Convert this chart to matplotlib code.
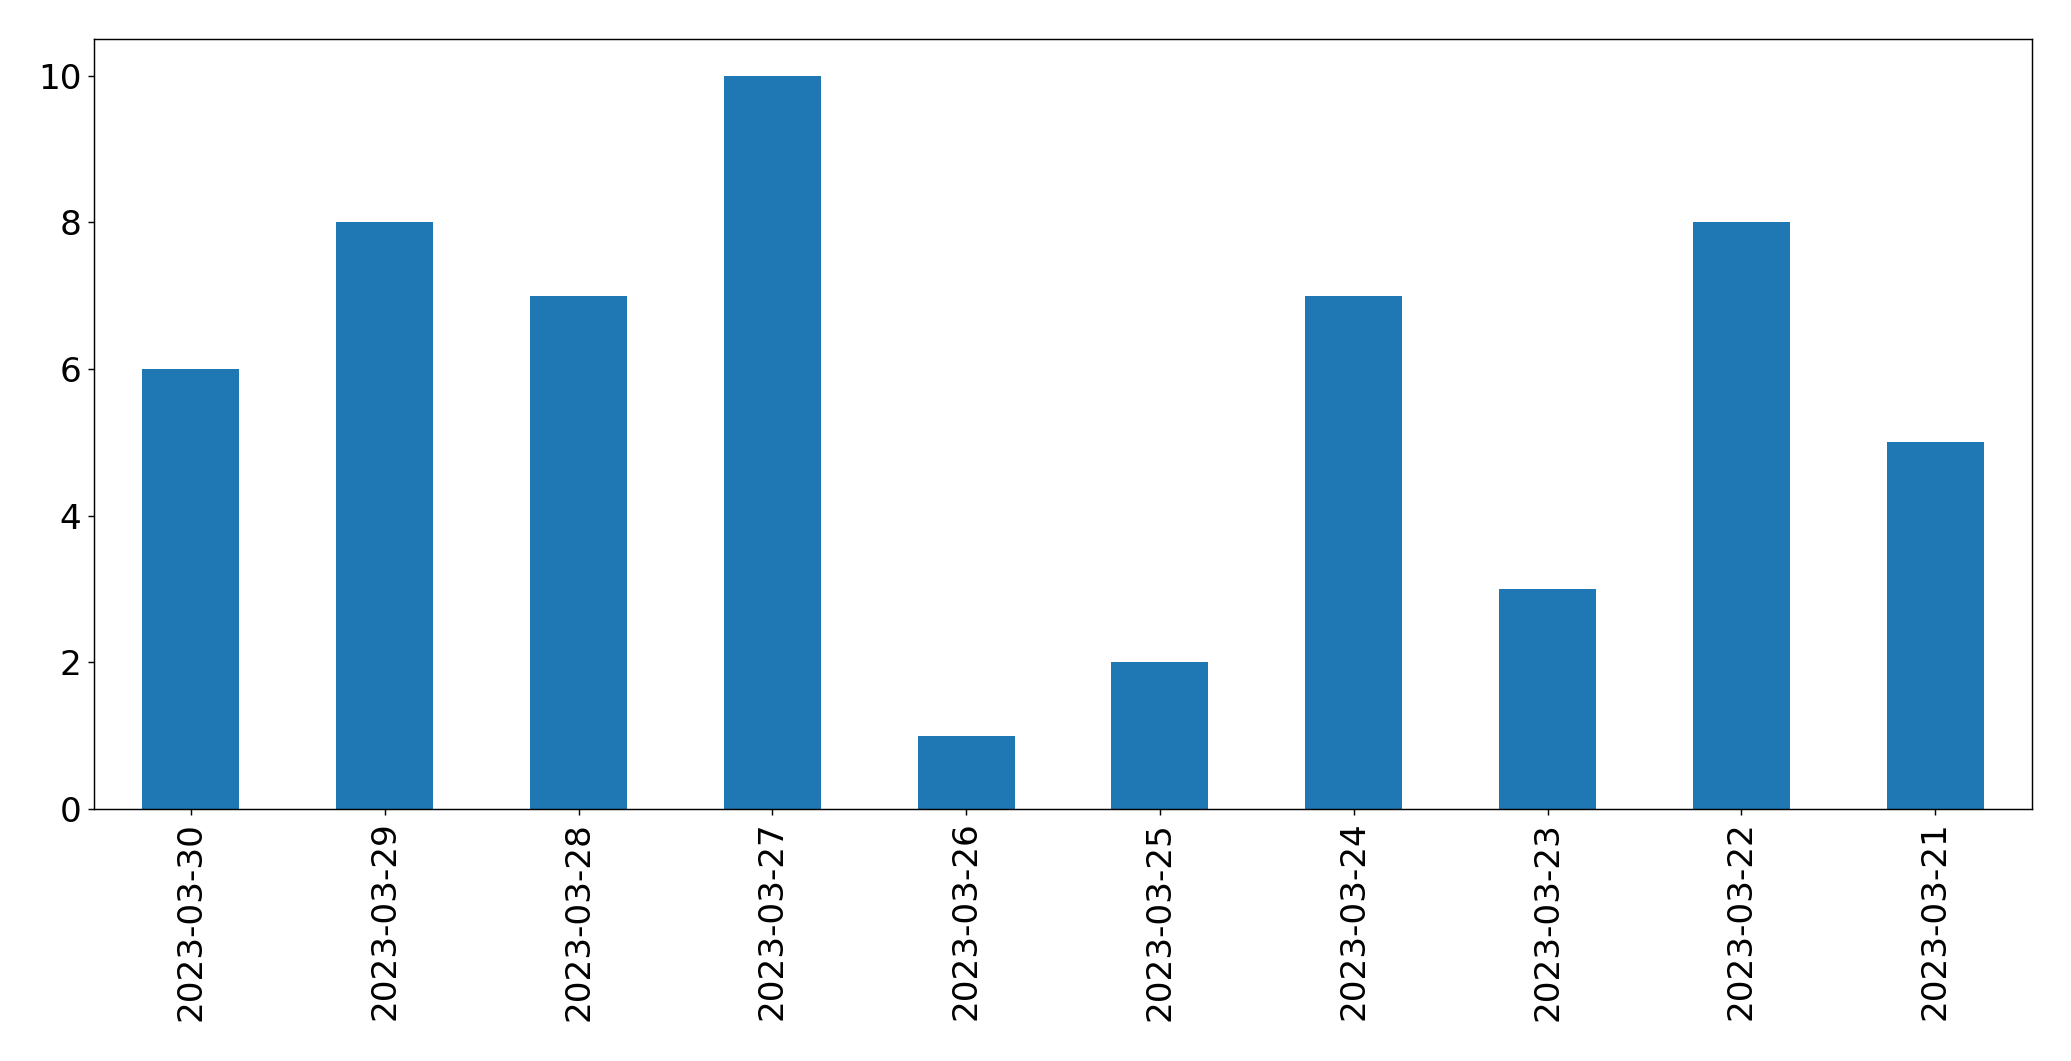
import matplotlib
matplotlib.use('Agg')
import matplotlib.pyplot as plt
import pandas as pd

dates = ['2023-03-30', '2023-03-29', '2023-03-28', '2023-03-27', '2023-03-26',
         '2023-03-25', '2023-03-24', '2023-03-23', '2023-03-22', '2023-03-21']
counts = [6, 8, 7, 10, 1, 2, 7, 3, 8, 5]

dpi = 130
fig = plt.figure(figsize=(2071 / dpi, 1061 / dpi), dpi=dpi)
ax = fig.add_axes([0.0454, 0.2375, 0.9358, 0.7257])

series = pd.Series(counts, index=dates)
series.plot.bar(ax=ax, color='#1f77b4', width=0.5)

ax.tick_params(axis='both', labelsize=19)
ax.set_xticklabels(dates, rotation=90)

fig.savefig('out.png', dpi=dpi)
